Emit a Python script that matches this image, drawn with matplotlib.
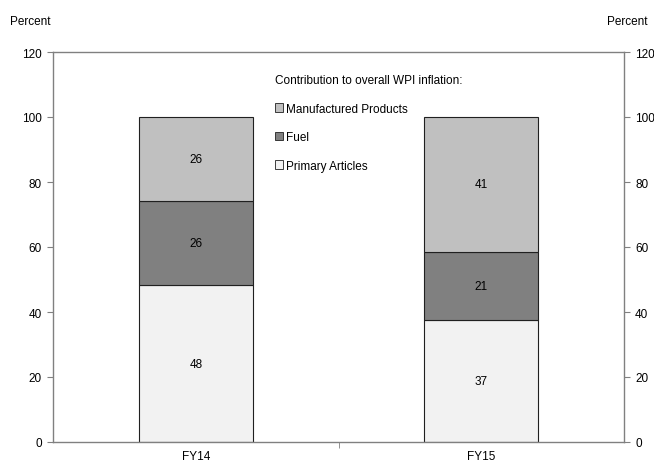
import numpy as np
import matplotlib
matplotlib.use("Agg")
import matplotlib.pyplot as plt
from matplotlib.patches import Patch

plt.rcParams["font.family"] = ["Liberation Sans", "DejaVu Sans"]
plt.rcParams["font.size"] = 8.5

# ------------------------------------------------------------
#  Data
# ------------------------------------------------------------
years = ["FY14", "FY15"]
primary = [48.3, 37.4]
fuel = [25.8, 21.2]
manufactured = [25.9, 41.4]

series = [
    ("Primary Articles", primary, "#f2f2f2"),
    ("Fuel", fuel, "#808080"),
    ("Manufactured Products", manufactured, "#c0c0c0"),
]

fig = plt.figure(figsize=(6.54, 4.64), dpi=100)
ax = fig.add_axes([53 / 654, 21 / 464, 571 / 654, 390 / 464])

x = np.arange(len(years))
bottom = np.zeros(len(years))
for name, vals, col in series:
    ax.bar(x, vals, 0.4, bottom=bottom, color=col, edgecolor="#202020",
           linewidth=0.8, label=name)
    for xi, b, v in zip(x, bottom, vals):
        ax.text(xi, b + v / 2, f"{v:.0f}", ha="center", va="center", fontsize=8.5)
    bottom += np.array(vals)

ax.set_xlim(-0.5, 1.5)
ax.set_ylim(0, 120)
ax.set_yticks(range(0, 121, 20))
ax.set_xticks(x)
ax.set_xticklabels(years)
ax.set_xticks([0.5], minor=True)
ax.tick_params(axis="x", which="major", length=0, pad=6)
ax.tick_params(axis="x", which="minor", length=4, color="#808080", direction="out")
ax.tick_params(axis="y", length=4, color="#808080", direction="out",
               left=True, right=True, labelleft=True, labelright=True, pad=4)
for sp in ax.spines.values():
    sp.set_color("#808080")
    sp.set_linewidth(1.0)

fig.text(30 / 654, 1 - 22 / 464, "Percent", ha="center", va="center", fontsize=8.5)
fig.text(627 / 654, 1 - 22 / 464, "Percent", ha="center", va="center", fontsize=8.5)

handles = [Patch(facecolor=c, edgecolor="#202020", linewidth=0.6, label=n)
           for n, _, c in series[::-1]]
leg = ax.legend(handles=handles, loc="upper left",
                bbox_to_anchor=(222 / 571, 1 - 22 / 390),
                title="Contribution to overall WPI inflation:",
                frameon=False, handlelength=0.7, handleheight=0.7,
                handletextpad=0.2, labelspacing=1.4, borderaxespad=0,
                borderpad=0, fontsize=8.5, title_fontsize=8.5)
leg._legend_box.align = "left"

fig.savefig("out.png", dpi=100)
